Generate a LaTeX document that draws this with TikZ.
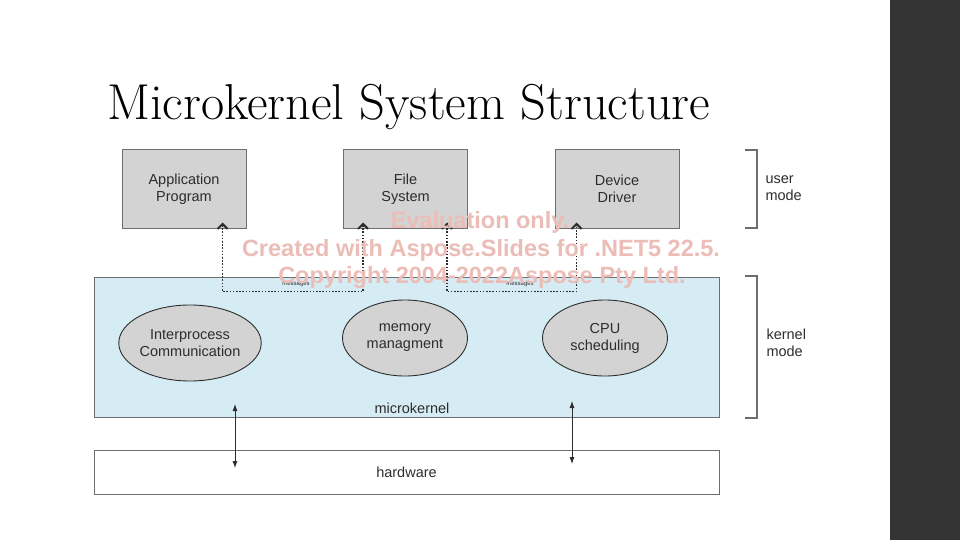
\documentclass[tikz,border=0pt]{standalone}
\usepackage{fontspec}
\setsansfont{Liberation Sans}
\usetikzlibrary{arrows.meta,shapes.geometric,calc}
\definecolor{boxgray}{RGB}{211,211,211}
\definecolor{edgegray}{RGB}{110,110,110}
\definecolor{kblue}{RGB}{214,236,245}
\definecolor{txt}{RGB}{45,45,45}
\definecolor{darkbar}{RGB}{51,51,51}
\definecolor{wm}{RGB}{236,188,182}
\definecolor{wmedge}{RGB}{205,150,145}
\tikzset{
  ubox/.style={draw=edgegray, line width=1pt, fill=boxgray, minimum width=124pt, minimum height=78pt, inner sep=0pt, align=center, font=\sffamily\fontsize{14.5}{17}\selectfont, text=txt},
  wide/.style={draw=edgegray, line width=1pt, minimum width=625pt, inner sep=0pt},
  ell/.style={ellipse, draw=txt, line width=0.9pt, fill=boxgray, inner sep=0pt, align=center, font=\sffamily\fontsize{14.5}{17}\selectfont, text=txt},
  lbl/.style={font=\sffamily\fontsize{14.5}{17}\selectfont, text=txt, align=left, anchor=west},
  brk/.style={draw=edgegray, line width=1.3pt},
  msg/.style={dash pattern=on 1.6pt off 1.6pt, line width=1.8pt, txt, {Straight Barb[length=5pt,width=10pt,line width=2pt]}-{Straight Barb[length=5pt,width=10pt,line width=2pt]}},
  hwarrow/.style={line width=0.8pt, txt, {Latex[length=7pt,width=5pt]}-{Latex[length=7pt,width=5pt]}},
  wmtext/.style={font=\sffamily\bfseries\fontsize{23.5}{25}\selectfont, text=wm, draw=none}
}
\begin{document}
\begin{tikzpicture}[x=1pt,y=-1pt]
\useasboundingbox (0,0) rectangle (960,540);
\fill[white] (0,0) rectangle (960,540);
\fill[darkbar] (890,0) rectangle (960,540);

% title
\node[anchor=base west, inner sep=0pt] (title) at (107,120)
  {\resizebox{603pt}{!}{\fontsize{40}{40}\selectfont Microkernel System Structure}};

% user boxes
\node[ubox] (app) at (184,189) {Application\\Program};
\node[ubox] (fs)  at (405.5,189) {File\\System};
\node[ubox] (dd)  at (617,189) {Device\\Driver};

% microkernel and hardware
\node[wide, fill=kblue, minimum height=140pt] (mk) at (406.5,347) {};
\node[wide, fill=white, minimum height=44pt, font=\sffamily\fontsize{14.5}{17}\selectfont, text=txt] (hw) at (406.5,472) {hardware};
\node[font=\sffamily\fontsize{14.5}{17}\selectfont, text=txt] (mklbl) at (412,408) {microkernel};

% ellipses
\node[ell, minimum width=135pt, minimum height=76pt] (ipc) at (190,343) {Interprocess\\Communication};
\node[ell, minimum width=125pt, minimum height=76pt] (mem) at (405,338) {memory\\managment};
\node[ell, minimum width=125pt, minimum height=76pt] (cpu) at (605,338) {CPU\\scheduling};

% message loops
\coordinate (a1) at ([xshift=-24pt,yshift=6pt]app.south east);
\coordinate (b1) at ([xshift=20pt,yshift=6pt]fs.south west);
\coordinate (a2) at ([xshift=-21pt,yshift=6pt]fs.south east);
\coordinate (b2) at ([xshift=22pt,yshift=6pt]dd.south west);
\draw[msg] (a1) -- ++(0,69) -| (b1);
\draw[msg] (a2) -- ++(0,69) -| (b2);
\node[font=\sffamily\fontsize{6}{6}\selectfont, text=txt] (m1) at (296,285) {messages};
\node[font=\sffamily\fontsize{6}{6}\selectfont, text=txt] (m2) at (520,285) {messages};

% hardware arrows
\coordinate (h1t) at (235,404);
\coordinate (h1b) at (235,468);
\coordinate (h2t) at (572,401);
\coordinate (h2b) at (572,464);
\draw[hwarrow] (h1t) -- (h1b);
\draw[hwarrow] (h2t) -- (h2b);

% brackets
\draw[brk] (745,150) -- (757,150) -- (757,228) -- (745,228);
\draw[brk] (745,276) -- (757,276) -- (757,418) -- (745,418);
\node[lbl] (um) at (762,188) {user\\mode};
\node[lbl] (km) at (763,343) {kernel\\mode};

% watermark
\node[wmtext] (w1) at (480,222) {Evaluation only.};
\node[wmtext] (w2) at (481,250) {Created with Aspose.Slides for .NET5 22.5.};
\node[wmtext] (w3) at (482,277) {Copyright 2004-2022Aspose Pty Ltd.};
\end{tikzpicture}
\end{document}
